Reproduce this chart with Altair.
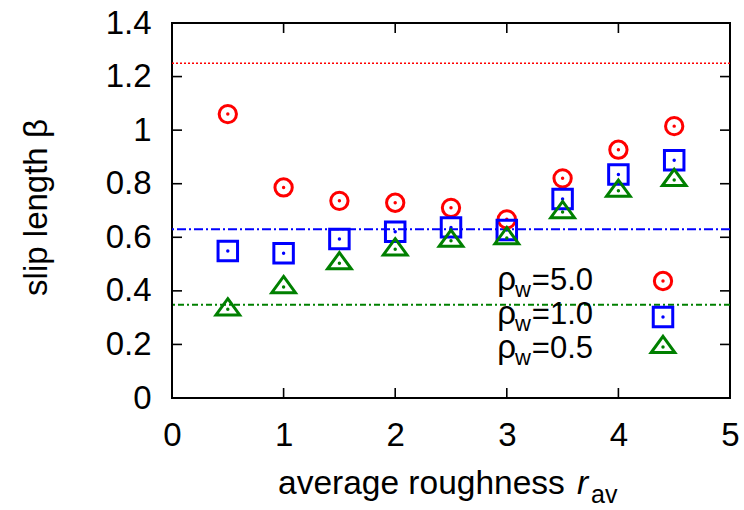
import altair as alt
import pandas as pd

# ---- data ----
roughness = [0.5, 1.0, 1.5, 2.0, 2.5, 3.0, 3.5, 4.0, 4.5]
beta_rho50 = [1.060, 0.786, 0.736, 0.729, 0.710, 0.667, 0.820, 0.927, 1.015]
beta_rho10 = [0.549, 0.540, 0.594, 0.621, 0.637, 0.627, 0.743, 0.834, 0.888]
beta_rho05 = [0.331, 0.414, 0.503, 0.555, 0.587, 0.597, 0.694, 0.774, 0.814]
smooth_beta = [1.25, 0.63, 0.348]          # horizontal reference levels
series_labels = ["5.0", "1.0", "0.5"]       # rho_w values
x_ticks = [0, 1, 2, 3, 4, 5]
y_ticks = [0, 0.2, 0.4, 0.6, 0.8, 1.0, 1.2, 1.4]

# ---- styling ----
W, H = 558, 375
FONT = "Liberation Sans"
colors = ["#ff0000", "#0000ff", "#008000"]
tri_path = "M0,-0.9L1,0.47L-1,0.47Z"
shapes = ["circle", "square", tri_path]
sizes = [300, 380, 560]
dashes = [[2, 2], [9, 3, 2, 3], [6, 3, 2, 3]]
line_w = [1.5, 2.0, 2.0]

xscale = alt.Scale(domain=[0, 5], nice=False, zero=False)
yscale = alt.Scale(domain=[0, 1.4], nice=False, zero=False)
xaxis = alt.Axis(values=x_ticks, format="~g", grid=False, domain=False, ticks=False,
                 tickSize=0, labelPadding=21, labelFontSize=33, labelFont=FONT,
                 labelColor="black", title=None, labelFlush=False)
yaxis = alt.Axis(values=y_ticks, format="~g", grid=False, domain=False, ticks=False,
                 tickSize=0, labelPadding=21, labelFontSize=33, labelFont=FONT,
                 labelColor="black", title=None)


def X(field):
    return alt.X(field, type="quantitative", scale=xscale, axis=xaxis)


def Y(field):
    return alt.Y(field, type="quantitative", scale=yscale, axis=yaxis)


layers = []

# reference lines
for lvl, col, dash, lw in zip(smooth_beta, colors, dashes, line_w):
    layers.append(
        alt.Chart(pd.DataFrame({"b": [lvl]}))
        .mark_rule(color=col, strokeWidth=lw, strokeDash=dash)
        .encode(y=Y("b"))
    )

# inward ticks on all four sides
tx = pd.DataFrame({"x": x_ticks})
ty = pd.DataFrame({"y": y_ticks})
tick_style = dict(color="black", strokeWidth=1.6)
layers.append(alt.Chart(tx).mark_rule(**tick_style).encode(x=X("x"), y=alt.value(H), y2=alt.value(H - 10)))
layers.append(alt.Chart(tx).mark_rule(**tick_style).encode(x=X("x"), y=alt.value(0), y2=alt.value(10)))
layers.append(alt.Chart(ty).mark_rule(**tick_style).encode(y=Y("y"), x=alt.value(0), x2=alt.value(10)))
layers.append(alt.Chart(ty).mark_rule(**tick_style).encode(y=Y("y"), x=alt.value(W - 10), x2=alt.value(W)))

# data series
for vals, col, shp, sz in zip([beta_rho50, beta_rho10, beta_rho05], colors, shapes, sizes):
    df = pd.DataFrame({"r": roughness, "b": vals})
    layers.append(
        alt.Chart(df).mark_point(shape=shp, size=sz, filled=False, color=col, strokeWidth=3, opacity=1)
        .encode(x=X("r"), y=Y("b"))
    )
    layers.append(
        alt.Chart(df).mark_point(shape="circle", size=12, filled=True, color=col, opacity=1)
        .encode(x=X("r"), y=Y("b"))
    )

# manual legend (labels left of symbols, inside plot)
sym_x = 491
sym_y = [258, 294, 324]
txt_base = [267, 301, 335]
for lab, col, shp, sz, sy, tb in zip(series_labels, colors, shapes, sizes, sym_y, txt_base):
    one = pd.DataFrame({"t": [lab]})
    layers.append(alt.Chart(one).mark_point(shape=shp, size=sz, filled=False, color=col, strokeWidth=3, opacity=1)
                  .encode(x=alt.value(sym_x), y=alt.value(sy)))
    layers.append(alt.Chart(one).mark_point(shape="circle", size=12, filled=True, color=col, opacity=1)
                  .encode(x=alt.value(sym_x), y=alt.value(sy)))
    layers.append(alt.Chart(one).mark_text(font=FONT, fontSize=31, align="right", baseline="alphabetic", color="black")
                  .encode(x=alt.value(421), y=alt.value(tb), text="t:N").transform_calculate(t="'=' + datum.t"))
    layers.append(alt.Chart(pd.DataFrame({"t": ["w"]})).mark_text(font=FONT, fontSize=22, align="right", baseline="alphabetic", color="black")
                  .encode(x=alt.value(359), y=alt.value(tb + 7), text="t:N"))
    layers.append(alt.Chart(pd.DataFrame({"t": ["ρ"]})).mark_text(font=FONT, fontSize=33, align="right", baseline="alphabetic", color="black")
                  .encode(x=alt.value(344), y=alt.value(tb), text="t:N"))

# axis titles
layers.append(alt.Chart(pd.DataFrame({"t": ["slip length β"]})).mark_text(
    font=FONT, fontSize=33, angle=270, align="center", baseline="middle", color="black")
    .encode(x=alt.value(-135), y=alt.value(H / 2 - 3), text="t:N"))
layers.append(alt.Chart(pd.DataFrame({"t": ["average roughness"]})).mark_text(
    font=FONT, fontSize=33.5, align="left", baseline="alphabetic", color="black")
    .encode(x=alt.value(106), y=alt.value(471), text="t:N"))
layers.append(alt.Chart(pd.DataFrame({"t": ["r"]})).mark_text(
    font=FONT, fontSize=33.5, fontStyle="italic", align="left", baseline="alphabetic", color="black")
    .encode(x=alt.value(405), y=alt.value(471), text="t:N"))
layers.append(alt.Chart(pd.DataFrame({"t": ["av"]})).mark_text(
    font=FONT, fontSize=25, align="left", baseline="alphabetic", color="black")
    .encode(x=alt.value(419), y=alt.value(480), text="t:N"))

chart = (
    alt.layer(*layers)
    .properties(width=W, height=H,
                padding={"left": 172, "top": 23, "right": 14, "bottom": 112},
                autosize=alt.AutoSizeParams(type="none"))
    .configure_view(stroke="black", strokeWidth=2)
)

chart.save("out.html", embed_options={"renderer": "svg", "actions": False})
